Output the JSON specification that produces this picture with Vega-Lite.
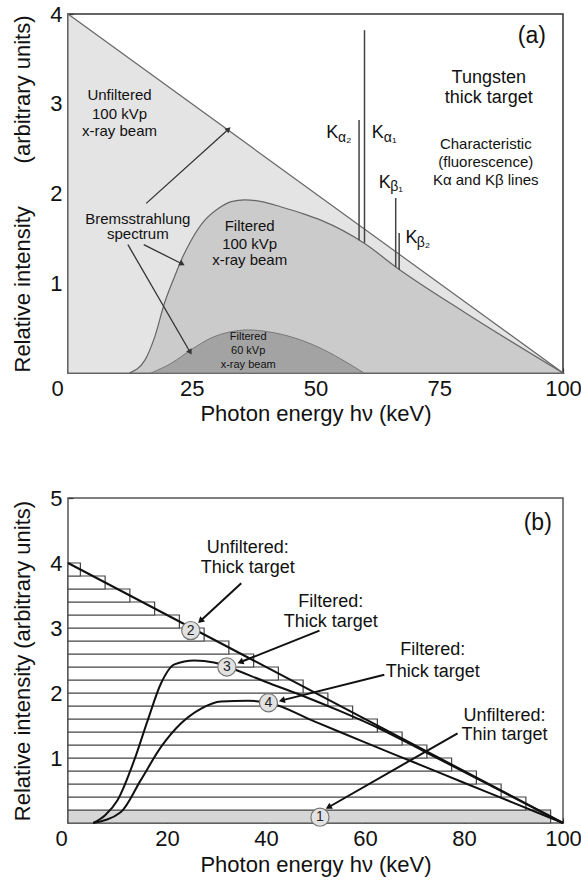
{
  "$schema": "https://vega.github.io/schema/vega-lite/v6.json",
  "padding": {"left": 11, "top": 2, "right": 0, "bottom": 5},
  "background": "white",
  "spacing": 61,
  "config": {
    "font": "Liberation Sans",
    "view": {"stroke": "#333", "strokeWidth": 1.5},
    "axis": {
      "grid": false, "domain": false, "tickColor": "#333", "tickWidth": 1.2,
      "tickSize": -5, "labelFontSize": 22, "labelColor": "#111", "labelFlush": false,
      "titleFontSize": 22, "titleFontWeight": "normal", "titleColor": "#111",
      "labelFont": "Liberation Sans", "titleFont": "Liberation Sans"
    },
    "text": {"font": "Liberation Sans", "color": "#111"}
  },
  "datasets": {
    "unfilteredA": [{"x": 0, "y": 4}, {"x": 100, "y": 0}],
    "filtered100": [
      {"x": 12.4, "y": 0}, {"x": 15.5, "y": 0.14}, {"x": 17.5, "y": 0.4}, {"x": 19.5, "y": 0.78},
      {"x": 21.5, "y": 1.07}, {"x": 22.9, "y": 1.26}, {"x": 24.9, "y": 1.48}, {"x": 27.6, "y": 1.7},
      {"x": 30.3, "y": 1.83}, {"x": 33.0, "y": 1.91}, {"x": 35.7, "y": 1.93}, {"x": 39.1, "y": 1.91},
      {"x": 43.1, "y": 1.85}, {"x": 47.2, "y": 1.78}, {"x": 51.2, "y": 1.7}, {"x": 60, "y": 1.44},
      {"x": 66.5, "y": 1.17}, {"x": 80, "y": 0.68}, {"x": 100, "y": 0}
    ],
    "filtered60": [
      {"x": 16.8, "y": 0}, {"x": 20.9, "y": 0.11}, {"x": 24.9, "y": 0.26}, {"x": 28.9, "y": 0.39},
      {"x": 33.0, "y": 0.46}, {"x": 36.4, "y": 0.48}, {"x": 40.4, "y": 0.46}, {"x": 45.8, "y": 0.39},
      {"x": 50.5, "y": 0.29}, {"x": 55, "y": 0.16}, {"x": 59.8, "y": 0}
    ],
    "charLines": [
      {"line": "Kα2", "x": 58.8, "y": 1.48, "y2": 2.82},
      {"line": "Kα1", "x": 59.9, "y": 1.45, "y2": 3.82},
      {"line": "Kβ1", "x": 66.2, "y": 1.18, "y2": 1.95},
      {"line": "Kβ2", "x": 66.9, "y": 1.15, "y2": 1.56}
    ],
    "arrowsA": [
      {"x": 15.8, "y": 1.89, "x2": 32.3, "y2": 2.71},
      {"x": 15.3, "y": 1.43, "x2": 22.9, "y2": 1.22},
      {"x": 12.1, "y": 1.43, "x2": 24.6, "y2": 0.24}
    ],
    "textA15": [
      {"t": "Unfiltered", "x": 10.4, "y": 3.1}, {"t": "100 kVp", "x": 10.4, "y": 2.89}, {"t": "x-ray beam", "x": 10.4, "y": 2.7},
      {"t": "Bremsstrahlung", "x": 14.1, "y": 1.72}, {"t": "spectrum", "x": 14.1, "y": 1.55},
      {"t": "Filtered", "x": 36.7, "y": 1.64}, {"t": "100 kVp", "x": 36.7, "y": 1.44}, {"t": "x-ray beam", "x": 36.7, "y": 1.26},
      {"t": "Characteristic", "x": 84.4, "y": 2.55}, {"t": "(fluorescence)", "x": 84.4, "y": 2.35}, {"t": "Kα and Kβ  lines", "x": 84.4, "y": 2.15}
    ],
    "textA18": [
      {"t": "Tungsten", "x": 85.0, "y": 3.29}, {"t": "thick target", "x": 85.0, "y": 3.06},
      {"t": "K", "x": 53.4, "y": 2.67}, {"t": "K", "x": 62.6, "y": 2.67},
      {"t": "K", "x": 64.0, "y": 2.12}, {"t": "K", "x": 69.4, "y": 1.5}
    ],
    "textA12": [
      {"t": "α₂", "x": 55.9, "y": 2.62}, {"t": "α₁", "x": 65.1, "y": 2.62},
      {"t": "β₁", "x": 66.4, "y": 2.07}, {"t": "β₂", "x": 71.8, "y": 1.45}
    ],
    "textA11": [
      {"t": "Filtered", "x": 36.4, "y": 0.4}, {"t": "60 kVp", "x": 36.4, "y": 0.24}, {"t": "x-ray beam", "x": 36.4, "y": 0.09}
    ],
    "labelA": [{"t": "(a)", "x": 93.7, "y": 3.75}],
    "bars": [
      {"kind": "thin", "x0": 0, "xe": 97.5, "y0": 0.0, "y1": 0.2},
      {"kind": "thick", "x0": 0, "xe": 92.5, "y0": 0.2, "y1": 0.4},
      {"kind": "thick", "x0": 0, "xe": 87.5, "y0": 0.4, "y1": 0.6},
      {"kind": "thick", "x0": 0, "xe": 82.5, "y0": 0.6, "y1": 0.8},
      {"kind": "thick", "x0": 0, "xe": 77.5, "y0": 0.8, "y1": 1.0},
      {"kind": "thick", "x0": 0, "xe": 72.5, "y0": 1.0, "y1": 1.2},
      {"kind": "thick", "x0": 0, "xe": 67.5, "y0": 1.2, "y1": 1.4},
      {"kind": "thick", "x0": 0, "xe": 62.5, "y0": 1.4, "y1": 1.6},
      {"kind": "thick", "x0": 0, "xe": 57.5, "y0": 1.6, "y1": 1.8},
      {"kind": "thick", "x0": 0, "xe": 52.5, "y0": 1.8, "y1": 2.0},
      {"kind": "thick", "x0": 0, "xe": 47.5, "y0": 2.0, "y1": 2.2},
      {"kind": "thick", "x0": 0, "xe": 42.5, "y0": 2.2, "y1": 2.4},
      {"kind": "thick", "x0": 0, "xe": 37.5, "y0": 2.4, "y1": 2.6},
      {"kind": "thick", "x0": 0, "xe": 32.5, "y0": 2.6, "y1": 2.8},
      {"kind": "thick", "x0": 0, "xe": 27.5, "y0": 2.8, "y1": 3.0},
      {"kind": "thick", "x0": 0, "xe": 22.5, "y0": 3.0, "y1": 3.2},
      {"kind": "thick", "x0": 0, "xe": 17.5, "y0": 3.2, "y1": 3.4},
      {"kind": "thick", "x0": 0, "xe": 12.5, "y0": 3.4, "y1": 3.6},
      {"kind": "thick", "x0": 0, "xe": 7.5, "y0": 3.6, "y1": 3.8},
      {"kind": "thick", "x0": 0, "xe": 2.5, "y0": 3.8, "y1": 4.0}
    ],
    "curvesB": [
      {"s": "2", "x": 0, "y": 4}, {"s": "2", "x": 100, "y": 0},
      {"s": "3", "x": 5.1, "y": 0}, {"s": "3", "x": 7.5, "y": 0.12}, {"s": "3", "x": 10, "y": 0.35},
      {"s": "3", "x": 13.4, "y": 0.97}, {"s": "3", "x": 16.1, "y": 1.58}, {"s": "3", "x": 18.8, "y": 2.15},
      {"s": "3", "x": 21.5, "y": 2.44}, {"s": "3", "x": 25.5, "y": 2.5}, {"s": "3", "x": 29.5, "y": 2.47},
      {"s": "3", "x": 32.3, "y": 2.4}, {"s": "3", "x": 40, "y": 2.17}, {"s": "3", "x": 47, "y": 1.97},
      {"s": "3", "x": 55, "y": 1.72}, {"s": "3", "x": 63, "y": 1.45}, {"s": "3", "x": 72, "y": 1.1},
      {"s": "3", "x": 85, "y": 0.59}, {"s": "3", "x": 100, "y": 0},
      {"s": "4", "x": 5.1, "y": 0}, {"s": "4", "x": 10.7, "y": 0.17}, {"s": "4", "x": 14.7, "y": 0.66},
      {"s": "4", "x": 18.8, "y": 1.17}, {"s": "4", "x": 22.8, "y": 1.53}, {"s": "4", "x": 26.9, "y": 1.76},
      {"s": "4", "x": 30.9, "y": 1.87}, {"s": "4", "x": 36.3, "y": 1.88}, {"s": "4", "x": 40.5, "y": 1.85},
      {"s": "4", "x": 50, "y": 1.555}, {"s": "4", "x": 60, "y": 1.24}, {"s": "4", "x": 70, "y": 0.93},
      {"s": "4", "x": 80, "y": 0.62}, {"s": "4", "x": 90, "y": 0.31}, {"s": "4", "x": 100, "y": 0}
    ],
    "circlesB": [
      {"n": "1", "x": 50.9, "y": 0.09}, {"n": "2", "x": 24.8, "y": 2.96},
      {"n": "3", "x": 32.1, "y": 2.4}, {"n": "4", "x": 40.5, "y": 1.85}
    ],
    "arrowsB": [
      {"x": 35.0, "y": 3.69, "x2": 26.9, "y2": 3.12},
      {"x": 50.8, "y": 2.96, "x2": 35.0, "y2": 2.48},
      {"x": 63.9, "y": 2.28, "x2": 43.4, "y2": 1.89},
      {"x": 78.7, "y": 1.38, "x2": 52.8, "y2": 0.25}
    ],
    "textB18": [
      {"t": "Unfiltered:", "x": 36.3, "y": 4.23}, {"t": "Thick target", "x": 36.3, "y": 3.92},
      {"t": "Filtered:", "x": 53.1, "y": 3.4}, {"t": "Thick target", "x": 53.1, "y": 3.1},
      {"t": "Filtered:", "x": 73.7, "y": 2.66}, {"t": "Thick target", "x": 73.7, "y": 2.33},
      {"t": "Unfiltered:", "x": 88.2, "y": 1.64}, {"t": "Thin target", "x": 88.2, "y": 1.35}
    ],
    "labelB": [{"t": "(b)", "x": 94.9, "y": 4.61}]
  },
  "vconcat": [
    {
      "width": 495, "height": 359,
      "layer": [
        {
          "data": {"name": "unfilteredA"},
          "mark": {"type": "area", "fill": "#e4e4e4", "stroke": "#666", "strokeWidth": 1.2},
          "encoding": {
            "x": {"field": "x", "type": "quantitative", "scale": {"domain": [0, 100], "nice": false},
              "axis": {"values": [0, 12.5, 25, 37.5, 50, 62.5, 75, 87.5, 100], "labelExpr": "datum.value % 25 == 0 ? format(datum.value, 'd') : ''",
                "labelOffset": {"condition": {"test": "datum.value == 0", "value": -11}, "value": 0},
                "labelPadding": 10, "titlePadding": 4, "title": "Photon energy hν  (keV)"}},
            "y": {"field": "y", "type": "quantitative", "scale": {"domain": [0, 4], "nice": false},
              "axis": {"values": [0.5, 1, 1.5, 2, 2.5, 3, 3.5, 4], "labelExpr": "datum.value % 1 == 0 ? format(datum.value, 'd') : ''", "labelPadding": 11, "titlePadding": 15, "title": "Relative intensity\u00a0\u00a0\u00a0\u00a0\u00a0\u00a0\u00a0(arbitrary units)"}}
          }
        },
        {
          "data": {"name": "filtered100"},
          "mark": {"type": "area", "fill": "#cbcbcb", "stroke": "#666", "strokeWidth": 1.2, "interpolate": "monotone"},
          "encoding": {"x": {"field": "x", "type": "quantitative"}, "y": {"field": "y", "type": "quantitative"}}
        },
        {
          "data": {"name": "filtered60"},
          "mark": {"type": "area", "fill": "#a3a3a3", "stroke": "#777", "strokeWidth": 1, "interpolate": "monotone"},
          "encoding": {"x": {"field": "x", "type": "quantitative"}, "y": {"field": "y", "type": "quantitative"}}
        },
        {
          "data": {"name": "charLines"},
          "mark": {"type": "rule", "stroke": "#444", "strokeWidth": 1.5},
          "encoding": {"x": {"field": "x", "type": "quantitative"}, "y": {"field": "y", "type": "quantitative"}, "y2": {"field": "y2"}}
        },
        {
          "data": {"name": "arrowsA"},
          "mark": {"type": "rule", "stroke": "#333", "strokeWidth": 1.3},
          "encoding": {"x": {"field": "x", "type": "quantitative"}, "y": {"field": "y", "type": "quantitative"}, "x2": {"field": "x2"}, "y2": {"field": "y2"}}
        },
        {
          "data": {"name": "arrowsA"},
          "transform": [{"calculate": "atan2((datum.x2 - datum.x) * 4.95, (datum.y2 - datum.y) * 89.75) * 180 / PI", "as": "ang"}],
          "mark": {"type": "point", "shape": "triangle", "filled": true, "fill": "#333", "opacity": 1, "size": 40},
          "encoding": {"x": {"field": "x2", "type": "quantitative"}, "y": {"field": "y2", "type": "quantitative"}, "angle": {"field": "ang", "type": "quantitative", "scale": null}}
        },
        {
          "data": {"name": "textA15"},
          "mark": {"type": "text", "fontSize": 15, "baseline": "middle"},
          "encoding": {"x": {"field": "x", "type": "quantitative"}, "y": {"field": "y", "type": "quantitative"}, "text": {"field": "t"}}
        },
        {
          "data": {"name": "textA18"},
          "mark": {"type": "text", "fontSize": 18, "baseline": "middle"},
          "encoding": {"x": {"field": "x", "type": "quantitative"}, "y": {"field": "y", "type": "quantitative"}, "text": {"field": "t"}}
        },
        {
          "data": {"name": "textA12"},
          "mark": {"type": "text", "fontSize": 14, "baseline": "middle"},
          "encoding": {"x": {"field": "x", "type": "quantitative"}, "y": {"field": "y", "type": "quantitative"}, "text": {"field": "t"}}
        },
        {
          "data": {"name": "textA11"},
          "mark": {"type": "text", "fontSize": 11, "baseline": "middle"},
          "encoding": {"x": {"field": "x", "type": "quantitative"}, "y": {"field": "y", "type": "quantitative"}, "text": {"field": "t"}}
        },
        {
          "data": {"name": "labelA"},
          "mark": {"type": "text", "fontSize": 23, "baseline": "middle"},
          "encoding": {"x": {"field": "x", "type": "quantitative"}, "y": {"field": "y", "type": "quantitative"}, "text": {"field": "t"}}
        }
      ]
    },
    {
      "width": 495, "height": 325,
      "view": {"stroke": "#555"},
      "layer": [
        {
          "data": {"name": "bars"},
          "mark": {"type": "rect", "stroke": "#444", "strokeWidth": 1.2},
          "encoding": {
            "x": {"field": "x0", "type": "quantitative", "scale": {"domain": [0, 100], "nice": false},
              "axis": {"values": [0, 20, 40, 60, 80, 100], "format": "d",
                "labelOffset": {"condition": {"test": "datum.value == 0", "value": -7}, "value": 0},
                "labelPadding": 10, "titlePadding": 5, "title": "Photon energy hν  (keV)"}},
            "x2": {"field": "xe"},
            "y": {"field": "y0", "type": "quantitative", "scale": {"domain": [0, 5], "nice": false},
              "axis": {"values": [1, 2, 3, 4, 5], "format": "d", "labelPadding": 11, "titlePadding": 15, "title": "Relative intensity  (arbitrary units)"}},
            "y2": {"field": "y1"},
            "fill": {"field": "kind", "type": "nominal", "scale": {"domain": ["thin", "thick"], "range": ["#d6d6d6", "#ffffff"]}, "legend": null}
          }
        },
        {
          "data": {"name": "curvesB"},
          "mark": {"type": "line", "stroke": "#111", "strokeWidth": 2, "interpolate": "monotone"},
          "encoding": {"x": {"field": "x", "type": "quantitative"}, "y": {"field": "y", "type": "quantitative"}, "detail": {"field": "s"}}
        },
        {
          "data": {"name": "arrowsB"},
          "mark": {"type": "rule", "stroke": "#111", "strokeWidth": 2},
          "encoding": {"x": {"field": "x", "type": "quantitative"}, "y": {"field": "y", "type": "quantitative"}, "x2": {"field": "x2"}, "y2": {"field": "y2"}}
        },
        {
          "data": {"name": "arrowsB"},
          "transform": [{"calculate": "atan2((datum.x2 - datum.x) * 4.95, (datum.y2 - datum.y) * 65) * 180 / PI", "as": "ang"}],
          "mark": {"type": "point", "shape": "triangle", "filled": true, "fill": "#111", "opacity": 1, "size": 50},
          "encoding": {"x": {"field": "x2", "type": "quantitative"}, "y": {"field": "y2", "type": "quantitative"}, "angle": {"field": "ang", "type": "quantitative", "scale": null}}
        },
        {
          "data": {"name": "circlesB"},
          "mark": {"type": "point", "shape": "circle", "filled": true, "fill": "#e2e2e2", "stroke": "#777", "strokeWidth": 1.2, "opacity": 1, "size": 330},
          "encoding": {"x": {"field": "x", "type": "quantitative"}, "y": {"field": "y", "type": "quantitative"}}
        },
        {
          "data": {"name": "circlesB"},
          "mark": {"type": "text", "fontSize": 14, "baseline": "middle", "color": "#222"},
          "encoding": {"x": {"field": "x", "type": "quantitative"}, "y": {"field": "y", "type": "quantitative"}, "text": {"field": "n"}}
        },
        {
          "data": {"name": "textB18"},
          "mark": {"type": "text", "fontSize": 18, "baseline": "middle"},
          "encoding": {"x": {"field": "x", "type": "quantitative"}, "y": {"field": "y", "type": "quantitative"}, "text": {"field": "t"}}
        },
        {
          "data": {"name": "labelB"},
          "mark": {"type": "text", "fontSize": 23, "baseline": "middle"},
          "encoding": {"x": {"field": "x", "type": "quantitative"}, "y": {"field": "y", "type": "quantitative"}, "text": {"field": "t"}}
        }
      ]
    }
  ]
}
